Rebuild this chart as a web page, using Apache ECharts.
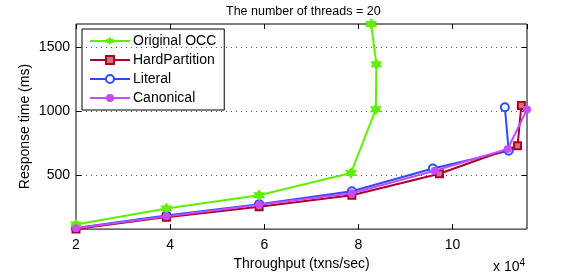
<!DOCTYPE html>
<html><head><meta charset="utf-8">
<script src="https://cdn.jsdelivr.net/npm/echarts@6/dist/echarts.min.js"></script>
<style>html,body{margin:0;padding:0;background:#fff}#c{width:581px;height:276px}</style>
</head><body><div id="c"></div>
<script>
// Throughput in units of 10^4 txns/sec, response time in ms
const seriesNames = ['Original OCC', 'HardPartition', 'Literal', 'Canonical'];
const occX = [2, 3.92, 5.89, 7.84, 8.37, 8.38, 8.27];
const occY = [110, 235, 340, 514, 1016, 1369, 1685];
const hardX = [2, 3.92, 5.89, 7.86, 9.72, 11.38, 11.46];
const hardY = [74, 168, 250, 340, 509, 729, 1044];
const litX = [2, 3.92, 5.89, 7.86, 9.58, 11.19, 11.11];
const litY = [82, 180, 270, 371, 550, 690, 1031];
const canX = [2, 3.92, 5.89, 7.86, 9.62, 11.17, 11.58];
const canY = [80, 174, 265, 355, 532, 703, 1013];
const xTicks = [2, 4, 6, 8, 10];
const yTicks = [500, 1000, 1500];
const xRange = [2, 11.58];
const yRange = [74, 1685];

const FONT = 'Liberation Sans';
const pair = (xs, ys) => xs.map((x, i) => [x, ys[i]]);
const star = 'path://M0,-10 L2.9,-5 L8.66,-5 L5.8,0 L8.66,5 L2.9,5 L0,10 L-2.9,5 L-8.66,5 L-5.8,0 L-8.66,-5 L-2.9,-5 Z';
const colors = ['#5ef000', '#a8002a', '#2a4cff', '#c84bff'];

const chart = echarts.init(document.getElementById('c'), null, {renderer: 'canvas'});
const tickStyle = {show: true, inside: true, length: 5, lineStyle: {color: '#000', width: 1}};
const tickFrac = 5 / 451; // tick length as fraction of plot width

// y grid lines + labels + ticks drawn via markLine (from yTicks)
const yGrid = yTicks.map(v => ({yAxis: v}));
const ySpan = xRange[1] - xRange[0];
const yTickMarks = [];
yTicks.forEach(v => {
  yTickMarks.push([{coord: [xRange[0], v]}, {coord: [xRange[0] + ySpan * tickFrac, v]}]);
  yTickMarks.push([{coord: [xRange[1] - ySpan * tickFrac, v]}, {coord: [xRange[1], v]}]);
});

chart.setOption({
  animation: false,
  textStyle: {fontFamily: FONT},
  title: {text: 'The number of threads = 20', left: 221, top: 0,
    textStyle: {fontFamily: FONT, fontSize: 12.5, fontWeight: 'normal', color: '#000'}},
  grid: {left: 76, right: 54, top: 24, bottom: 43, show: true, borderColor: '#000', borderWidth: 1, backgroundColor: '#fff'},
  legend: {
    orient: 'vertical', left: 82, top: 29, padding: [5, 8, 5, 7], itemGap: 5,
    itemWidth: 40, itemHeight: 10, backgroundColor: '#fff', borderColor: '#000', borderWidth: 1,
    textStyle: {fontFamily: FONT, fontSize: 14, color: '#000', padding: [0, 0, 0, -2]},
    data: seriesNames
  },
  xAxis: [
    {type: 'value', min: xRange[0], max: xRange[1], interval: 2,
      axisLine: {show: false}, axisTick: tickStyle, splitLine: {show: false},
      name: 'Throughput (txns/sec)', nameLocation: 'middle', nameGap: 26,
      nameTextStyle: {fontFamily: FONT, fontSize: 14, color: '#000'},
      axisLabel: {fontFamily: FONT, fontSize: 14, color: '#000', margin: 9, showMaxLabel: false,
        formatter: v => xTicks.includes(v) ? String(v) : ''}},
    {type: 'value', position: 'top', min: xRange[0], max: xRange[1], interval: 2,
      axisLine: {show: false}, axisTick: tickStyle, splitLine: {show: false}, axisLabel: {show: false}}
  ],
  yAxis: [
    {type: 'value', min: yRange[0], max: yRange[1],
      axisLine: {show: false}, axisTick: {show: false}, splitLine: {show: false}, axisLabel: {show: false},
      name: 'Response time (ms)', nameLocation: 'middle', nameGap: 44,
      nameTextStyle: {fontFamily: FONT, fontSize: 14, color: '#000'}}
  ],
  graphic: [{
    type: 'text', left: 493, top: 258,
    style: {text: 'x 10{s|4}', fontFamily: FONT, fontSize: 14, fill: '#000',
      rich: {s: {fontSize: 10, verticalAlign: 'top', padding: [0, 0, 8, 0], fontFamily: FONT}}}
  }],
  series: [
    {name: '_grid', type: 'line', data: [], z: 1, silent: true,
      markLine: {silent: true, symbol: 'none', animation: false,
        lineStyle: {color: '#555', width: 1, type: [1, 4]},
        label: {show: true, position: 'start', distance: 6, formatter: p => String(p.value),
          fontFamily: FONT, fontSize: 14, color: '#000'},
        data: yGrid}},
    {name: '_ticks', type: 'line', data: [], z: 1, silent: true,
      markLine: {silent: true, symbol: 'none', animation: false,
        lineStyle: {color: '#000', width: 1, type: 'solid'}, label: {show: false},
        data: yTickMarks}},
    {name: seriesNames[0], type: 'line', data: pair(occX, occY), clip: false, z: 5,
      symbol: star, symbolSize: 12, lineStyle: {width: 2, color: colors[0]}, itemStyle: {color: colors[0]}},
    {name: seriesNames[1], type: 'line', data: pair(hardX, hardY), clip: false, z: 4,
      symbol: 'rect', symbolSize: 7, lineStyle: {width: 2, color: colors[1]},
      itemStyle: {color: '#c77', borderColor: colors[1], borderWidth: 2}},
    {name: seriesNames[2], type: 'line', data: pair(litX, litY), clip: false, z: 3,
      symbol: 'circle', symbolSize: 8, lineStyle: {width: 2, color: colors[2]},
      itemStyle: {color: '#fff', borderColor: colors[2], borderWidth: 2}},
    {name: seriesNames[3], type: 'line', data: pair(canX, canY), clip: false, z: 6,
      symbol: 'circle', symbolSize: 8, lineStyle: {width: 2, color: colors[3]},
      itemStyle: {color: colors[3], borderColor: colors[3], borderWidth: 0}}
  ]
});
</script></body></html>
